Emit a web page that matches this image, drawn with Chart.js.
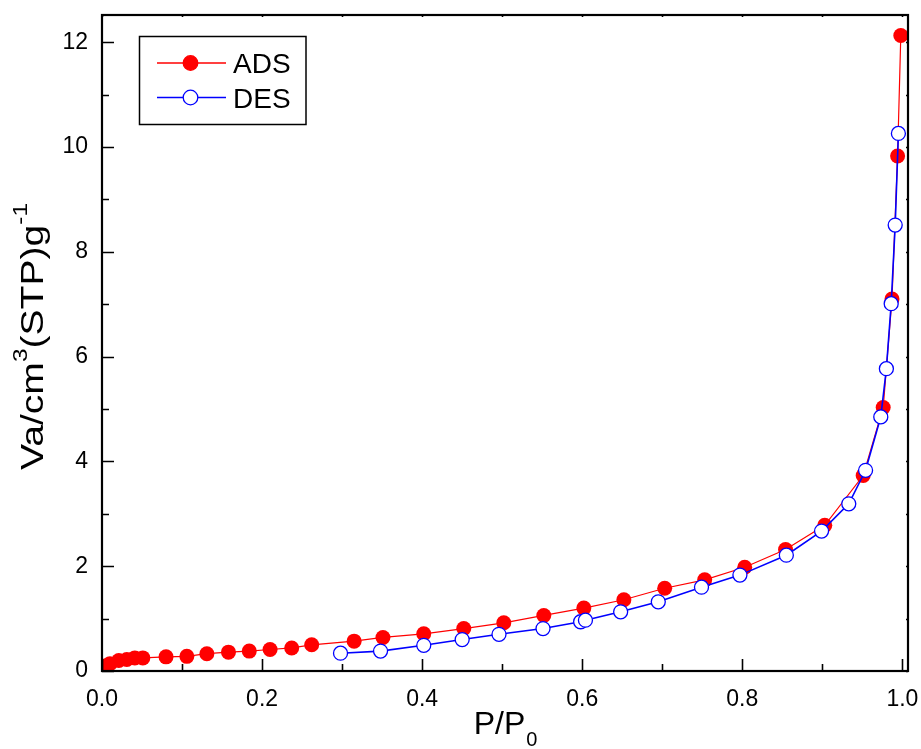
<!DOCTYPE html>
<html lang="en">
<head>
    <meta charset="UTF-8">
    <title>Adsorption / Desorption Isotherm</title>
    <script src="https://cdn.jsdelivr.net/npm/chart.js"></script>
    <style>
        body {
            margin: 0;
            padding: 0;
            background: #fff;
        }

        .chart-box {
            width: 921px;
            height: 749px;
        }
    </style>
</head>
<body>
    <div class="chart-box">
        <canvas id="isoChart" width="921" height="749"></canvas>
    </div>

    <script>
        // adsorption branch (red, filled)
        const adsP = [0.002, 0.01, 0.021, 0.031, 0.041, 0.051, 0.08, 0.106, 0.131, 0.158, 0.184, 0.21, 0.237, 0.262,
            0.315, 0.351, 0.402, 0.452, 0.502, 0.552, 0.602, 0.652, 0.703, 0.753, 0.803, 0.854, 0.903, 0.951,
            0.976, 0.987, 0.994, 0.998];
        const adsV = [0.09, 0.14, 0.2, 0.22, 0.25, 0.25, 0.27, 0.28, 0.33, 0.36, 0.38, 0.41, 0.44, 0.5,
            0.57, 0.64, 0.71, 0.81, 0.92, 1.06, 1.2, 1.36, 1.58, 1.74, 1.98, 2.32, 2.78, 3.73,
            5.03, 7.1, 9.83, 12.13];

        // desorption branch (blue, open)
        const desP = [0.298, 0.348, 0.402, 0.45, 0.496, 0.551, 0.598, 0.604, 0.648, 0.695, 0.749, 0.797, 0.855,
            0.899, 0.933, 0.954, 0.973, 0.98, 0.986, 0.991, 0.995];
        const desV = [0.34, 0.38, 0.49, 0.6, 0.7, 0.81, 0.94, 0.97, 1.13, 1.32, 1.6, 1.83, 2.21,
            2.67, 3.19, 3.83, 4.85, 5.77, 7.01, 8.51, 10.26];

        // axis ticks
        const xTicks = [0, 0.2, 0.4, 0.6, 0.8, 1.0];
        const xMinorTicks = [0.1, 0.3, 0.5, 0.7, 0.9];
        const yTicks = [0, 2, 4, 6, 8, 10, 12];
        const yMinorTicks = [1, 3, 5, 7, 9, 11];

        const seriesNames = ['ADS', 'DES'];

        const FONT = "'Liberation Sans', Arial, sans-serif";

        function toPoints(xs, ys) {
            return xs.map((x, i) => ({ x: x, y: ys[i] }));
        }

        // frame, inward ticks, axis titles and the boxed legend
        const originStyle = {
            id: 'originStyle',
            afterDraw(chart) {
                const ctx = chart.ctx;
                const a = chart.chartArea;
                const xs = chart.scales.x;
                const ys = chart.scales.y;

                ctx.save();
                ctx.strokeStyle = '#000';
                ctx.lineWidth = 1.6;
                ctx.beginPath();
                xTicks.concat(xMinorTicks).forEach(v => {
                    const px = Math.round(xs.getPixelForValue(v)) + 0.5;
                    const len = xTicks.includes(v) ? 12 : 7;
                    ctx.moveTo(px, a.bottom);
                    ctx.lineTo(px, a.bottom - len);
                    ctx.moveTo(px, a.top);
                    ctx.lineTo(px, a.top + 2);
                });
                yTicks.concat(yMinorTicks).forEach(v => {
                    const py = Math.round(ys.getPixelForValue(v)) + 0.5;
                    const len = yTicks.includes(v) ? 12 : 7;
                    ctx.moveTo(a.left, py);
                    ctx.lineTo(a.left + len, py);
                    ctx.moveTo(a.right, py);
                    ctx.lineTo(a.right - 2, py);
                });
                ctx.stroke();

                ctx.lineWidth = 2.2;
                ctx.strokeRect(a.left, a.top, a.right - a.left, a.bottom - a.top);

                // x title: P/P0
                ctx.fillStyle = '#000';
                ctx.textBaseline = 'alphabetic';
                ctx.textAlign = 'left';
                ctx.font = '32px ' + FONT;
                const mainX = 'P/P';
                const wMain = ctx.measureText(mainX).width;
                ctx.font = '20px ' + FONT;
                const wSub = ctx.measureText('0').width;
                let tx = (a.left + a.right) / 2 - (wMain + wSub) / 2;
                ctx.font = '32px ' + FONT;
                ctx.fillText(mainX, tx, 734);
                ctx.font = '20px ' + FONT;
                ctx.fillText('0', tx + wMain + 1, 746);

                // y title: Va/cm3(STP)g-1
                const parts = [
                    ['Va/cm', 32, 0], ['3', 20, -16], ['(STP)g', 32, 0], ['-1', 20, -16]
                ];
                let total = 0;
                parts.forEach(p => {
                    ctx.font = p[1] + 'px ' + FONT;
                    total += ctx.measureText(p[0]).width;
                });
                const stretch = 267 / total;
                ctx.save();
                ctx.translate(43, 336.5);
                ctx.rotate(-Math.PI / 2);
                ctx.scale(stretch, 1);
                let cx = -total / 2;
                parts.forEach(p => {
                    ctx.font = p[1] + 'px ' + FONT;
                    ctx.fillText(p[0], cx, p[2]);
                    cx += ctx.measureText(p[0]).width;
                });
                ctx.restore();

                // legend
                ctx.lineWidth = 1.5;
                ctx.strokeRect(139.5, 36.5, 166.5, 88);
                const rows = [
                    { y: 63, line: 'red', fill: 'red', stroke: 'red', lw: 1.3 },
                    { y: 97.5, line: 'blue', fill: '#fff', stroke: 'blue', lw: 1.6 }
                ];
                rows.forEach((r, i) => {
                    ctx.strokeStyle = r.line;
                    ctx.lineWidth = r.lw;
                    ctx.beginPath();
                    ctx.moveTo(157, r.y);
                    ctx.lineTo(226, r.y);
                    ctx.stroke();
                    ctx.beginPath();
                    ctx.arc(190.5, r.y, 7.3, 0, Math.PI * 2);
                    ctx.fillStyle = r.fill;
                    ctx.fill();
                    ctx.strokeStyle = r.stroke;
                    ctx.lineWidth = 1.3;
                    ctx.stroke();
                    ctx.fillStyle = '#000';
                    ctx.font = '28px ' + FONT;
                    ctx.fillText(seriesNames[i], 233, r.y + 10);
                });
                ctx.restore();
            }
        };

        const isoChart = new Chart(document.getElementById('isoChart').getContext('2d'), {
            type: 'scatter',
            data: {
                datasets: [
                    {
                        label: seriesNames[1],
                        data: toPoints(desP, desV),
                        showLine: true,
                        borderColor: '#0000ff',
                        borderWidth: 1.6,
                        pointRadius: 7,
                        pointBorderWidth: 1.3,
                        pointBackgroundColor: '#ffffff',
                        pointBorderColor: '#0000ff',
                        tension: 0
                    },
                    {
                        label: seriesNames[0],
                        data: toPoints(adsP, adsV),
                        showLine: true,
                        borderColor: '#ff0000',
                        borderWidth: 1.2,
                        pointRadius: 7.5,
                        pointBorderWidth: 0,
                        pointBackgroundColor: '#ff0000',
                        pointBorderColor: '#ff0000',
                        tension: 0
                    }
                ]
            },
            options: {
                responsive: false,
                animation: false,
                devicePixelRatio: 1,
                layout: {
                    padding: { top: 15, right: 13, left: 0, bottom: 0 }
                },
                plugins: {
                    legend: { display: false },
                    tooltip: { enabled: false }
                },
                scales: {
                    x: {
                        type: 'linear',
                        min: 0,
                        max: 1.007,
                        afterBuildTicks: scale => { scale.ticks = xTicks.map(v => ({ value: v })); },
                        afterFit: scale => {
                            scale.height = 78;
                            scale.paddingLeft = 0;
                            scale.paddingRight = 0;
                        },
                        grid: { display: false, drawTicks: false },
                        border: { display: false },
                        ticks: {
                            padding: 15,
                            color: '#000',
                            font: { family: FONT, size: 23 },
                            callback: v => v.toFixed(1)
                        }
                    },
                    y: {
                        type: 'linear',
                        min: 0,
                        max: 12.52,
                        afterBuildTicks: scale => { scale.ticks = yTicks.map(v => ({ value: v })); },
                        afterFit: scale => {
                            scale.width = 102;
                            scale.paddingTop = 0;
                            scale.paddingBottom = 0;
                        },
                        grid: { display: false, drawTicks: false },
                        border: { display: false },
                        ticks: {
                            padding: 14,
                            color: '#000',
                            font: { family: FONT, size: 23 },
                            callback: v => String(v)
                        }
                    }
                }
            },
            plugins: [originStyle]
        });
    </script>
</body>
</html>
